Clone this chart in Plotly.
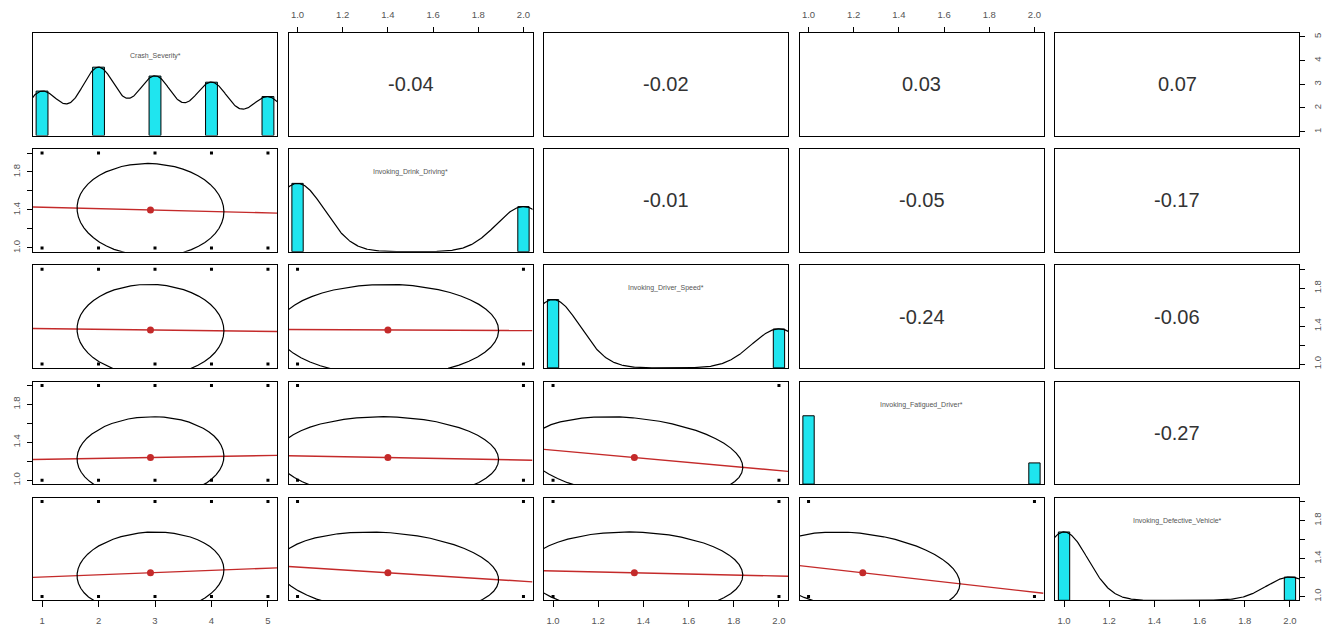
import numpy as np
import plotly.graph_objects as go

# ---------------- data ----------------
var_names = ["Crash_Severity*", "Invoking_Drink_Driving*", "Invoking_Driver_Speed*",
             "Invoking_Fatigued_Driver*", "Invoking_Defective_Vehicle*"]
var_levels = [[1, 2, 3, 4, 5], [1, 2], [1, 2], [1, 2], [1, 2]]
hist_heights = [[0.65, 1.0, 0.87, 0.78, 0.57], [1.0, 0.66], [1.0, 0.57], [1.0, 0.31], [1.0, 0.34]]
var_means = [2.92, 1.40, 1.36, 1.24, 1.25]
var_sds = [1.30, 0.49, 0.48, 0.43, 0.43]
density_bw = [0.32, 0.12, 0.12, None, 0.105]
cor_matrix = [
    [1.00, -0.04, -0.02, 0.03, 0.07],
    [-0.04, 1.00, -0.01, -0.05, -0.17],
    [-0.02, -0.01, 1.00, -0.24, -0.06],
    [0.03, -0.05, -0.24, 1.00, -0.27],
    [0.07, -0.17, -0.06, -0.27, 1.00],
]
sev_ticks = [1, 2, 3, 4, 5]
sev_ticklabels = ["1", "2", "3", "4", "5"]
bin_ticks = [1.0, 1.2, 1.4, 1.6, 1.8, 2.0]
bin_xticklabels = ["1.0", "1.2", "1.4", "1.6", "1.8", "2.0"]
bin_yticklabels = ["1.0", "", "1.4", "", "1.8", ""]

# ---------------- styling / layout ----------------
W, H = 1332, 629
col_left = [33 + 255.5 * j for j in range(5)]
row_top = [33 + 116.2 * i for i in range(5)]
PW, PH = 244, 102.5
HIST_COL = "#1fe5ef"
RED = "#c42a2a"
TICK_FONT = dict(family="Arial, Liberation Sans, sans-serif", size=9.5, color="#555555")
n = len(var_names)


def vrange(v):
    lo, hi = min(var_levels[v]), max(var_levels[v])
    ext = 0.04 * (hi - lo)
    return [lo - ext, hi + ext]


def tick_spec(v, axis):
    if v == 0:
        return sev_ticks, sev_ticklabels
    return bin_ticks, (bin_xticklabels if axis == "x" else bin_yticklabels)


fig = go.Figure()
layout = dict(width=W, height=H, margin=dict(l=0, r=0, t=0, b=0), autosize=False,
              plot_bgcolor="white", paper_bgcolor="white", showlegend=False,
              font=dict(family="Arial, Liberation Sans, sans-serif"))
annotations = []


def axname(k):
    return "" if k == 1 else str(k)


for i in range(n):
    for j in range(n):
        k = i * n + j + 1
        s = axname(k)
        xd = [col_left[j] / W, (col_left[j] + PW) / W]
        yd = [1 - (row_top[i] + PH) / H, 1 - row_top[i] / H]
        xax = dict(domain=xd, anchor="y" + s, range=vrange(j), showgrid=False, zeroline=False,
                   showline=True, mirror=True, linecolor="black", linewidth=1,
                   ticks="", showticklabels=False, fixedrange=True)
        yrng = [0, 1.5] if i == j else vrange(i)
        yax = dict(domain=yd, anchor="x" + s, range=yrng, showgrid=False, zeroline=False,
                   showline=True, mirror=True, linecolor="black", linewidth=1,
                   ticks="", showticklabels=False, fixedrange=True)
        # outer axes
        if i == 0 and j in (1, 3):
            tv, tt = tick_spec(j, "x")
            xax.update(side="top", ticks="outside", ticklen=5, tickcolor="black", tickvals=tv,
                       ticktext=tt, showticklabels=True, tickfont=TICK_FONT, ticklabelstandoff=5)
        if i == n - 1 and j in (0, 2, 4):
            tv, tt = tick_spec(j, "x")
            xax.update(side="bottom", ticks="outside", ticklen=6, tickcolor="black", tickvals=tv,
                       ticktext=tt, showticklabels=True, tickfont=TICK_FONT, ticklabelstandoff=5)
        if j == 0 and i in (1, 3):
            tv, tt = tick_spec(i, "y")
            yax.update(side="left", ticks="outside", ticklen=5, tickcolor="black", tickvals=tv,
                       ticktext=tt, showticklabels=True, tickfont=TICK_FONT, tickangle=-90,
                       ticklabelstandoff=3)
        if j == n - 1 and i in (0, 2):
            tv, tt = tick_spec(i, "y")
            yax.update(side="right", ticks="outside", ticklen=5, tickcolor="black", tickvals=tv,
                       ticktext=tt, showticklabels=True, tickfont=TICK_FONT, tickangle=-90,
                       ticklabelstandoff=5)
        layout["xaxis" + s] = xax
        layout["yaxis" + s] = yax

        xr, yr = "x" + s, "y" + s
        if i == j:
            # histogram
            bw = 0.21 if i == 0 else 0.05
            fig.add_trace(go.Bar(x=var_levels[i], y=hist_heights[i], width=bw, xaxis=xr, yaxis=yr,
                                 marker=dict(color=HIST_COL, line=dict(color="black", width=1)),
                                 hoverinfo="skip"))
            h = density_bw[i]
            if h is not None:
                lv = np.array(var_levels[i], dtype=float)
                wts = np.array(hist_heights[i], dtype=float)
                gx = np.linspace(lv.min() - 3 * h, lv.max() + 3 * h, 512)
                gd = (wts[None, :] * np.exp(-0.5 * ((gx[:, None] - lv[None, :]) / h) ** 2)).sum(axis=1)
                gd = gd / gd.max()
                fig.add_trace(go.Scatter(x=gx, y=gd, mode="lines", xaxis=xr, yaxis=yr,
                                         line=dict(color="black", width=1.2), hoverinfo="skip"))
            annotations.append(dict(text=var_names[i], xref=xr + " domain", yref=yr + " domain",
                                    x=0.5, y=1 - 17 / PH, showarrow=False,
                                    font=dict(size=7, color="#555555")))
        elif i < j:
            # invisible anchor so the empty panel is drawn
            fig.add_trace(go.Scatter(x=[var_means[j]], y=[var_means[i]], mode="markers",
                                     xaxis=xr, yaxis=yr, marker=dict(size=1, opacity=0),
                                     hoverinfo="skip"))
            annotations.append(dict(text=f"{cor_matrix[i][j]:.2f}", xref=xr + " domain",
                                    yref=yr + " domain", x=0.5, y=0.5, showarrow=False,
                                    font=dict(size=20, color="#333333")))
        else:
            # points
            px, py = [], []
            for a in var_levels[j]:
                for b in var_levels[i]:
                    px.append(a)
                    py.append(b)
            fig.add_trace(go.Scatter(x=px, y=py, mode="markers", xaxis=xr, yaxis=yr,
                                     marker=dict(symbol="square", size=3, color="black"),
                                     hoverinfo="skip"))
            # regression line
            xm, ym, xs, ys, r = var_means[j], var_means[i], var_sds[j], var_sds[i], cor_matrix[i][j]
            xx = np.array(vrange(j))
            yy = ym + r * ys / xs * (xx - xm)
            fig.add_trace(go.Scatter(x=xx, y=yy, mode="lines", xaxis=xr, yaxis=yr,
                                     line=dict(color=RED, width=1.4), hoverinfo="skip"))
            # ellipse (psych draw.ellipse)
            ang = np.arange(52) * 2 * np.pi / 51
            th = (np.sign(r) if r != 0 else 1) / np.sqrt(2)
            ex = np.cos(ang) * np.sqrt(1 + r) * th - np.sin(ang) * np.sqrt(1 - r) * th
            ey = np.cos(ang) * np.sqrt(1 + r) * th + np.sin(ang) * np.sqrt(1 - r) * th
            fig.add_trace(go.Scatter(x=ex * xs + xm, y=ey * ys + ym, mode="lines", xaxis=xr, yaxis=yr,
                                     line=dict(color="black", width=1.2), hoverinfo="skip"))
            fig.add_trace(go.Scatter(x=[xm], y=[ym], mode="markers", xaxis=xr, yaxis=yr,
                                     marker=dict(size=7, color=RED), hoverinfo="skip"))

# right-hand scale for the last diagonal panel
last = n * n
tv, tt = tick_spec(n - 1, "y")
layout["yaxis" + str(last + 1)] = dict(overlaying="y" + str(last), anchor="x" + str(last), side="right",
                                       range=vrange(n - 1), showgrid=False, zeroline=False,
                                       ticks="outside", ticklen=5, tickcolor="black", tickvals=tv,
                                       ticktext=tt, tickfont=TICK_FONT, tickangle=-90,
                                       ticklabelstandoff=5, fixedrange=True)
fig.add_trace(go.Scatter(x=[var_means[n - 1]], y=[var_means[n - 1]], mode="markers",
                         xaxis="x" + str(last), yaxis="y" + str(last + 1),
                         marker=dict(size=1, opacity=0), hoverinfo="skip"))

layout["annotations"] = annotations
fig.update_layout(**layout)
fig.write_html("out.html", config={"displayModeBar": False},
               post_script="document.body.style.margin='0px';")
